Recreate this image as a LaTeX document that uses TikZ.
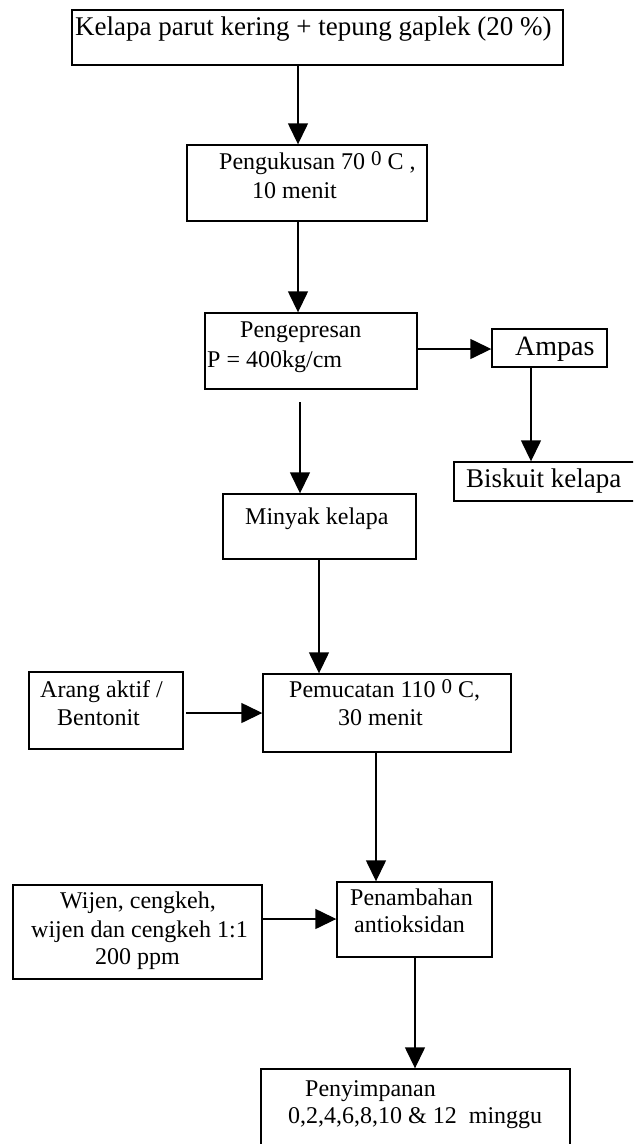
\documentclass[tikz,border=0pt]{standalone}
\usepackage{fontspec}
\setmainfont{Liberation Serif}
\usetikzlibrary{arrows.meta}
\newcommand\supzero{\raisebox{3.5pt}{\fontsize{21}{21}\selectfont 0}}
\begin{document}
\begin{tikzpicture}[x=1pt,y=-1pt,
  box/.style={draw,line width=1.4pt,inner sep=0pt},
  txt/.style={anchor=base west,inner sep=0pt,font=\fontsize{24}{28}\selectfont},
  bigtxt/.style={anchor=base west,inner sep=0pt,font=\fontsize{27}{30}\selectfont},
  arr/.style={line width=1.4pt,-{Triangle[length=21pt,width=20pt]}}]
\useasboundingbox (0,0) rectangle (633,1144);
\clip (0,0) rectangle (633,1144);
\fill[white] (0,0) rectangle (633,1144);
% boxes
\node[box,minimum width=491pt,minimum height=55pt] (b1) at (317.5,37.5) {};
\node[box,minimum width=240pt,minimum height=76pt] (b2) at (307,183) {};
\node[box,minimum width=212pt,minimum height=76pt] (b3) at (311,351) {};
\node[box,minimum width=115pt,minimum height=38pt] (b4) at (549.5,348) {};
\node[box,minimum width=186pt,minimum height=39pt] (b5) at (547,481.5) {};
\node[box,minimum width=193pt,minimum height=65pt] (b6) at (319.5,526.5) {};
\node[box,minimum width=154pt,minimum height=77pt] (b7) at (106,710.5) {};
\node[box,minimum width=248pt,minimum height=78pt] (b8) at (387,713) {};
\node[box,minimum width=249pt,minimum height=94pt] (b9) at (137.5,932) {};
\node[box,minimum width=155pt,minimum height=75pt] (b10) at (414.5,919.5) {};
\node[box,minimum width=309pt,minimum height=91pt] (b11) at (415.5,1114.5) {};
% texts
\node[bigtxt] (t1) at (75,35) {Kelapa parut kering + tepung gaplek (20 \%)};
\node[txt] (t2a) at (219,169) {Pengukusan 70 \supzero{} C ,};
\node[txt] (t2b) at (252,198) {10 menit};
\node[txt] (t3a) at (240,337) {Pengepresan};
\node[txt] (t3b) at (207,367) {P = 400kg/cm};
\node[anchor=base west,inner sep=0pt,font=\fontsize{28}{30}\selectfont] (t4) at (515,355) {Ampas};
\node[bigtxt] (t5) at (466,487) {Biskuit kelapa};
\node[txt] (t6) at (245,524) {Minyak kelapa};
\node[txt] (t7a) at (40,697) {Arang aktif /};
\node[txt] (t7b) at (57,725) {Bentonit};
\node[txt] (t8a) at (289,697) {Pemucatan 110 \supzero{} C,};
\node[txt] (t8b) at (338,725) {30 menit};
\node[txt] (t9a) at (60,908) {Wijen, cengkeh,};
\node[txt] (t9b) at (31,937) {wijen dan cengkeh 1:1};
\node[txt] (t9c) at (95,964) {200 ppm};
\node[txt] (t10a) at (350,905) {Penambahan};
\node[txt] (t10b) at (354,932) {antioksidan};
\node[txt] (t11a) at (305,1096) {Penyimpanan};
\node[txt] (t11b) at (288,1123) {0,2,4,6,8,10 \& 12\ \ minggu};
% column / row helpers
\coordinate (c1) at (298,0);
\coordinate (c2) at (300,402);
\coordinate (c3) at (319,0);
\coordinate (c4) at (376,0);
\coordinate (c5) at (415,0);
\coordinate (c6) at (531,0);
\coordinate (r1) at (0,349);
\coordinate (r2) at (186,713);
\coordinate (r3) at (0,919);
% connectors
\draw[arr] (b1.south -| c1) -- (b2.north -| c1);
\draw[arr] (b2.south -| c1) -- (b3.north -| c1);
\draw[arr] (b3.east |- r1) -- (b4.west |- r1);
\draw[arr] (b4.south -| c6) -- (b5.north -| c6);
\draw[arr] (c2) -- (b6.north -| c2);
\draw[arr] (b6.south -| c3) -- (b8.north -| c3);
\draw[arr] (r2) -- (b8.west |- r2);
\draw[arr] (b8.south -| c4) -- (b10.north -| c4);
\draw[arr] (b9.east |- r3) -- (b10.west |- r3);
\draw[arr] (b10.south -| c5) -- (b11.north -| c5);
\end{tikzpicture}
\end{document}
